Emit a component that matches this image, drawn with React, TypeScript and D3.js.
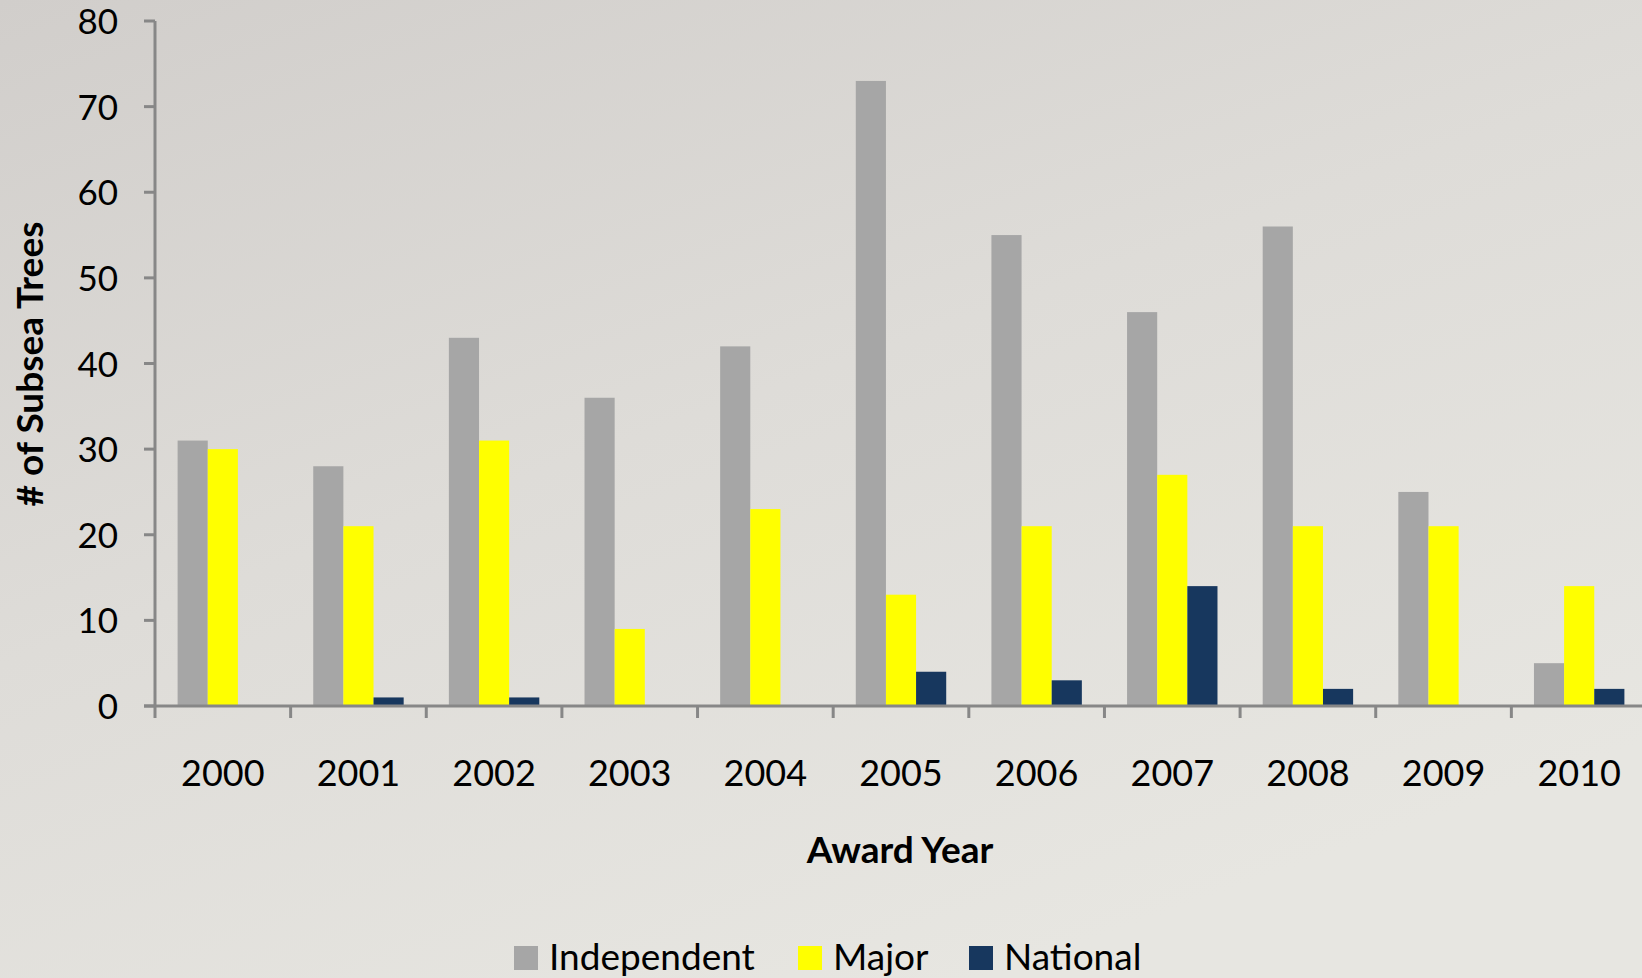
import React from "react";
import * as d3 from "d3";

const years = ["2000","2001","2002","2003","2004","2005","2006","2007","2008","2009","2010"];
const seriesNames = ["Independent","Major","National"];
const independent = [31,28,43,36,42,73,55,46,56,25,5];
const major = [30,21,31,9,23,13,21,27,21,21,14];
const national = [0,1,1,0,0,4,3,14,2,0,2];
const colors = ["#a6a6a6","#ffff00","#17375e"];
const yTicks = [0,10,20,30,40,50,60,70,80];

const W = 1642, H = 978;
const left = 155, top = 21, bottom = 706, axisRight = 1647;
const FONT = "Lato, 'Open Sans', sans-serif";

export default function App() {
  const values = [independent, major, national];
  const x0 = d3.scaleBand<string>().domain(years).range([left, axisRight]).padding(0);
  const x1 = d3.scaleBand<string>().domain(seriesNames).range([0, x0.bandwidth()]).paddingInner(0).paddingOuter(0.75);
  const y = d3.scaleLinear().domain([0, 80]).range([bottom, top]);
  const axisColor = "#878787";
  const boundaries = years.map((yr) => x0(yr)!);
  boundaries.push(axisRight);

  const legendItems = [
    { name: seriesNames[0], sx: 514, tx: 549 },
    { name: seriesNames[1], sx: 798, tx: 833 },
    { name: seriesNames[2], sx: 969, tx: 1004 },
  ];

  return (
    <svg width={W} height={H} style={{ position: "absolute", left: 0, top: 0 }} fontFamily={FONT}>
      <defs>
        <linearGradient id="bg" x1="0" y1="0" x2="0.6" y2="1">
          <stop offset="0" stopColor="#d1cecb" />
          <stop offset="0.5" stopColor="#dedcd8" />
          <stop offset="1" stopColor="#e7e6e1" />
        </linearGradient>
      </defs>
      <rect x={0} y={0} width={W} height={H} fill="url(#bg)" />

      {values.map((arr, si) =>
        arr.map((v, i) => (
          <rect
            key={`${si}-${i}`}
            x={x0(years[i])! + x1(seriesNames[si])!}
            y={y(v)}
            width={x1.bandwidth()}
            height={bottom - y(v)}
            fill={colors[si]}
          />
        ))
      )}

      {/* y axis */}
      <line x1={left} x2={left} y1={top} y2={bottom} stroke={axisColor} strokeWidth={3} />
      {yTicks.map((t) => (
        <g key={t}>
          <line x1={left - 11} x2={left} y1={y(t)} y2={y(t)} stroke={axisColor} strokeWidth={3} />
          <text x={118} y={y(t) + 13} textAnchor="end" fontSize={35} fill="#000">{t}</text>
        </g>
      ))}

      {/* x axis */}
      <line x1={left - 11} x2={axisRight} y1={bottom} y2={bottom} stroke={axisColor} strokeWidth={3} />
      {boundaries.map((b, i) => (
        <line key={i} x1={b} x2={b} y1={bottom} y2={bottom + 12} stroke={axisColor} strokeWidth={3} />
      ))}
      {years.map((yr) => (
        <text key={yr} x={x0(yr)! + x0.bandwidth() / 2} y={786} textAnchor="middle" fontSize={36} fill="#000">{yr}</text>
      ))}

      <text x={900} y={863} textAnchor="middle" fontSize={37} fontWeight="bold" fill="#000">Award Year</text>
      <text transform="translate(43,364) rotate(-90)" textAnchor="middle" fontSize={37} fontWeight="bold" fill="#000"># of Subsea Trees</text>

      {legendItems.map((it, i) => (
        <g key={it.name}>
          <rect x={it.sx} y={946} width={24} height={24} fill={colors[i]} />
          <text x={it.tx} y={970} fontSize={37} fill="#000">{it.name}</text>
        </g>
      ))}
    </svg>
  );
}
